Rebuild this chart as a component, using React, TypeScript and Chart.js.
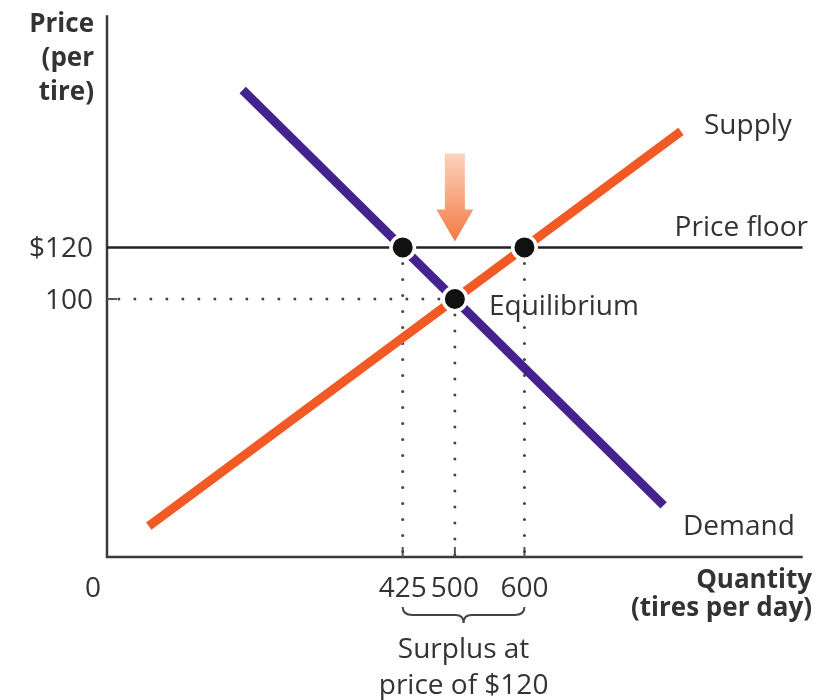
import { useEffect, useRef } from "react";
import { Chart, registerables } from "chart.js";

Chart.register(...registerables);

// Demand and supply schedules (quantity of tires per day, price per tire)
const demandQuantity = [195, 800];
const demandPrice = [181, 20];
const supplyQuantity = [60, 825];
const supplyPrice = [12, 165];

// Price floor imposed above the equilibrium price
const floorPrice = 120;
const floorQuantityRange = [0, 1000];

// Market points: quantity demanded and supplied at the floor, and equilibrium
const markQuantity = [425, 600, 500];
const markPrice = [120, 120, 100];

// Axis labels
const xTickValues = [425, 500, 600];
const xTickLabels = ["425", "500", "600"];
const yTickValues = [120, 100];
const yTickLabels = ["$120", "100"];

const xMax = 1000;
const yMax = 210;

const INK = "#333333";
const FONT = "'Open Sans'";

const guidePlugin = {
  id: "guides",
  beforeDatasetsDraw(chart: any) {
    const { ctx, chartArea } = chart;
    const xs = chart.scales.x;
    const ys = chart.scales.y;
    ctx.save();
    ctx.strokeStyle = "#3a3a3a";
    ctx.lineWidth = 2.5;
    ctx.lineCap = "butt";
    ctx.beginPath();
    ctx.moveTo(chartArea.left, chartArea.top);
    ctx.lineTo(chartArea.left, chartArea.bottom);
    ctx.lineTo(chartArea.right, chartArea.bottom);
    ctx.stroke();

    // short tick marks at the marked quantities and the equilibrium price
    ctx.lineWidth = 2;
    ctx.strokeStyle = "#555";
    ctx.beginPath();
    xTickValues.forEach((v) => {
      const px = xs.getPixelForValue(v);
      ctx.moveTo(px, chartArea.bottom - 10);
      ctx.lineTo(px, chartArea.bottom);
    });
    const py100 = ys.getPixelForValue(yTickValues[1]);
    ctx.moveTo(chartArea.left, py100);
    ctx.lineTo(chartArea.left + 10, py100);
    ctx.stroke();
    ctx.restore();
  },
  afterDatasetsDraw(chart: any) {
    const { ctx } = chart;
    const xs = chart.scales.x;
    const ys = chart.scales.y;
    ctx.save();
    ctx.fillStyle = INK;
    ctx.textBaseline = "alphabetic";

    // axis titles
    ctx.font = `bold 26px ${FONT}`;
    ctx.textAlign = "right";
    ["Price", "(per", "tire)"].forEach((t, i) => ctx.fillText(t, 94, 32 + i * 34));
    ctx.fillText("Quantity", 812, 588);
    ctx.fillText("(tires per day)", 812, 616);

    // tick labels
    ctx.font = `28px ${FONT}`;
    yTickValues.forEach((v, i) => {
      ctx.textAlign = "right";
      ctx.fillText(yTickLabels[i], 93, ys.getPixelForValue(v) + 10);
    });
    ctx.textAlign = "center";
    ctx.fillText("0", 93, 597);
    xTickValues.forEach((v, i) => {
      ctx.fillText(xTickLabels[i], xs.getPixelForValue(v), 597);
    });

    // curve labels
    ctx.textAlign = "left";
    ctx.fillText("Supply", 704, 134);
    ctx.fillText("Demand", 683, 535);
    ctx.fillText("Equilibrium", 489, 315);
    ctx.textAlign = "right";
    ctx.fillText("Price floor", 808, 236);

    // brace spanning the surplus
    const bx0 = xs.getPixelForValue(markQuantity[0]);
    const bx1 = xs.getPixelForValue(markQuantity[1]);
    const bm = (bx0 + bx1) / 2;
    const by = 607;
    ctx.strokeStyle = "#444";
    ctx.lineWidth = 2;
    ctx.beginPath();
    ctx.moveTo(bx0, by);
    ctx.quadraticCurveTo(bx0, by + 8, bx0 + 10, by + 8);
    ctx.lineTo(bm - 8, by + 8);
    ctx.quadraticCurveTo(bm, by + 8, bm, by + 16);
    ctx.quadraticCurveTo(bm, by + 8, bm + 8, by + 8);
    ctx.lineTo(bx1 - 10, by + 8);
    ctx.quadraticCurveTo(bx1, by + 8, bx1, by);
    ctx.stroke();

    ctx.textAlign = "center";
    ctx.fillText("Surplus at", bm, 658);
    ctx.fillText("price of $120", bm, 694);

    // downward arrow pointing at the floor above equilibrium
    const ax = xs.getPixelForValue(markQuantity[2]);
    const tip = ys.getPixelForValue(floorPrice) - 6;
    const top = tip - 88;
    const headTop = tip - 32;
    const grad = ctx.createLinearGradient(0, top, 0, tip);
    grad.addColorStop(0, "#fcd3bd");
    grad.addColorStop(1, "#f47a45");
    ctx.fillStyle = grad;
    ctx.beginPath();
    ctx.moveTo(ax - 10, top);
    ctx.lineTo(ax + 10, top);
    ctx.lineTo(ax + 10, headTop);
    ctx.lineTo(ax + 18.5, headTop);
    ctx.lineTo(ax, tip);
    ctx.lineTo(ax - 18.5, headTop);
    ctx.lineTo(ax - 10, headTop);
    ctx.closePath();
    ctx.fill();
    ctx.restore();
  },
};

const pts = (xs: number[], ys: number[]) => xs.map((x, i) => ({ x, y: ys[i] }));

export default function App() {
  const ref = useRef<HTMLCanvasElement>(null);

  useEffect(() => {
    const canvas = ref.current;
    if (!canvas) return;

    const dotted = (data: { x: number; y: number }[]) => ({
      type: "line" as const,
      data,
      borderColor: "#444444",
      borderWidth: 3,
      borderDash: [0, 16],
      borderCapStyle: "round" as const,
      pointRadius: 0,
      order: 3,
    });

    const chart = new Chart(canvas, {
      type: "line",
      data: {
        datasets: [
          {
            label: "Market points",
            data: pts(markQuantity, markPrice),
            showLine: false,
            pointRadius: 11.75,
            pointBorderWidth: 3.5,
            pointBackgroundColor: "#111111",
            pointBorderColor: "#ffffff",
            order: 0,
          },
          {
            label: "Supply",
            data: pts(supplyQuantity, supplyPrice),
            borderColor: "#f15a24",
            borderWidth: 9,
            borderCapStyle: "butt",
            pointRadius: 0,
            order: 1,
          },
          {
            label: "Demand",
            data: pts(demandQuantity, demandPrice),
            borderColor: "#45238f",
            borderWidth: 9,
            borderCapStyle: "butt",
            pointRadius: 0,
            order: 2,
          },
          dotted(pts([markQuantity[0], markQuantity[0]], [markPrice[0], 0])),
          dotted(pts([markQuantity[1], markQuantity[1]], [markPrice[1], 0])),
          dotted(pts([markQuantity[2], markQuantity[2]], [markPrice[2], 0])),
          dotted(pts([markQuantity[2], 0], [markPrice[2], markPrice[2]])),
          {
            label: "Price floor",
            data: pts(floorQuantityRange, [floorPrice, floorPrice]),
            borderColor: "#222222",
            borderWidth: 2.5,
            pointRadius: 0,
            order: 4,
          },
        ],
      },
      options: {
        responsive: false,
        animation: false,
        layout: { padding: { left: 107, right: 10, top: 12, bottom: 143 } },
        plugins: { legend: { display: false }, tooltip: { enabled: false } },
        scales: {
          x: { type: "linear", min: 0, max: xMax, display: false },
          y: { type: "linear", min: 0, max: yMax, display: false },
        },
      },
      plugins: [guidePlugin],
    });

    return () => chart.destroy();
  }, []);

  return (
    <div style={{ position: "absolute", left: 0, top: 0, width: 818, height: 700, background: "#fff" }}>
      <canvas ref={ref} width={818} height={700} />
    </div>
  );
}
